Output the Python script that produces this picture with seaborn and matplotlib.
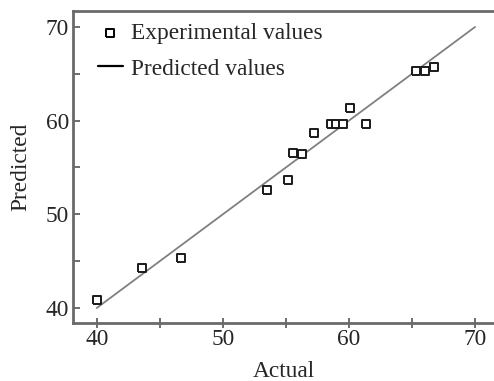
import matplotlib
matplotlib.use("Agg")
import matplotlib.pyplot as plt
import seaborn as sns
import pandas as pd

# Experimental (actual) vs. model-predicted values
actual = [40.0, 43.6, 46.7, 53.5, 55.2, 55.6, 56.3, 57.2, 58.6, 59.0, 59.5,
          60.1, 61.35, 65.3, 66.05, 66.75]
predicted = [40.9, 44.25, 45.3, 52.6, 53.7, 56.5, 56.4, 58.65, 59.6, 59.6, 59.6,
             61.4, 59.6, 65.3, 65.3, 65.7]

# Ideal prediction line
line_x = [40, 70]
line_y = [40, 70]

xticks = [40, 50, 60, 70]
yticks = [40, 50, 60, 70]

sns.set_style("white")
plt.rcParams["font.family"] = ["Liberation Serif", "DejaVu Serif"]
FS = 16.8

fig = plt.figure(figsize=(4.94, 3.81), dpi=100)
W, H = 494, 381
ax = fig.add_axes([73 / W, 1 - 323 / H, (W - 73) / W, (323 - 11) / H])

pts = pd.DataFrame({"Actual": actual, "Predicted": predicted})
ln = pd.DataFrame({"Actual": line_x, "Predicted": line_y})

# slightly wide square marker
box = [(-1.15, -1), (1.15, -1), (1.15, 1), (-1.15, 1), (-1.15, -1)]

sns.lineplot(data=ln, x="Actual", y="Predicted", ax=ax, color="#808080",
             linewidth=1.3, label="Predicted values", zorder=1)
sns.scatterplot(data=pts, x="Actual", y="Predicted", ax=ax, marker=box,
                s=34, facecolor="white", edgecolor="#1a1a1a", linewidth=1.4,
                label="Experimental values", zorder=3)

ax.set_xlim(38.12, 71.5)
ax.set_ylim(38.4, 71.7)
ax.set_xticks(xticks)
ax.set_yticks(yticks)
ax.set_xticks([45, 55, 65], minor=True)
ax.set_yticks([45, 55, 65], minor=True)

for side in ["left", "top", "bottom"]:
    ax.spines[side].set_visible(True)
    ax.spines[side].set_color("#6a6a6a")
    ax.spines[side].set_linewidth(2.0)
ax.spines["right"].set_visible(False)

ax.tick_params(axis="y", which="both", direction="in", length=5, width=1.2,
               color="#555555", left=True, labelsize=FS, pad=3)
ax.tick_params(axis="x", which="both", direction="inout", length=7, width=1.2,
               color="#555555", bottom=True, labelsize=FS, pad=1)

ax.set_xlabel("Actual", fontsize=FS, labelpad=8)
ax.set_ylabel("Predicted", fontsize=FS, labelpad=10)

handles, labels = ax.get_legend_handles_labels()
order = [labels.index("Experimental values"), labels.index("Predicted values")]
leg = ax.legend([handles[i] for i in order], [labels[i] for i in order],
                loc="upper left", bbox_to_anchor=(98 / W, 1 - 23 / H),
                bbox_transform=fig.transFigure, frameon=False,
                fontsize=FS, handlelength=1.05, handletextpad=0.35,
                labelspacing=0.6, borderpad=0, borderaxespad=0)
leg.legend_handles[1].set_color("black")
leg.legend_handles[1].set_linewidth(1.6)
leg.legend_handles[0].set_facecolor("white")
leg.legend_handles[0].set_edgecolor("black")

fig.savefig("out.png", dpi=100)
